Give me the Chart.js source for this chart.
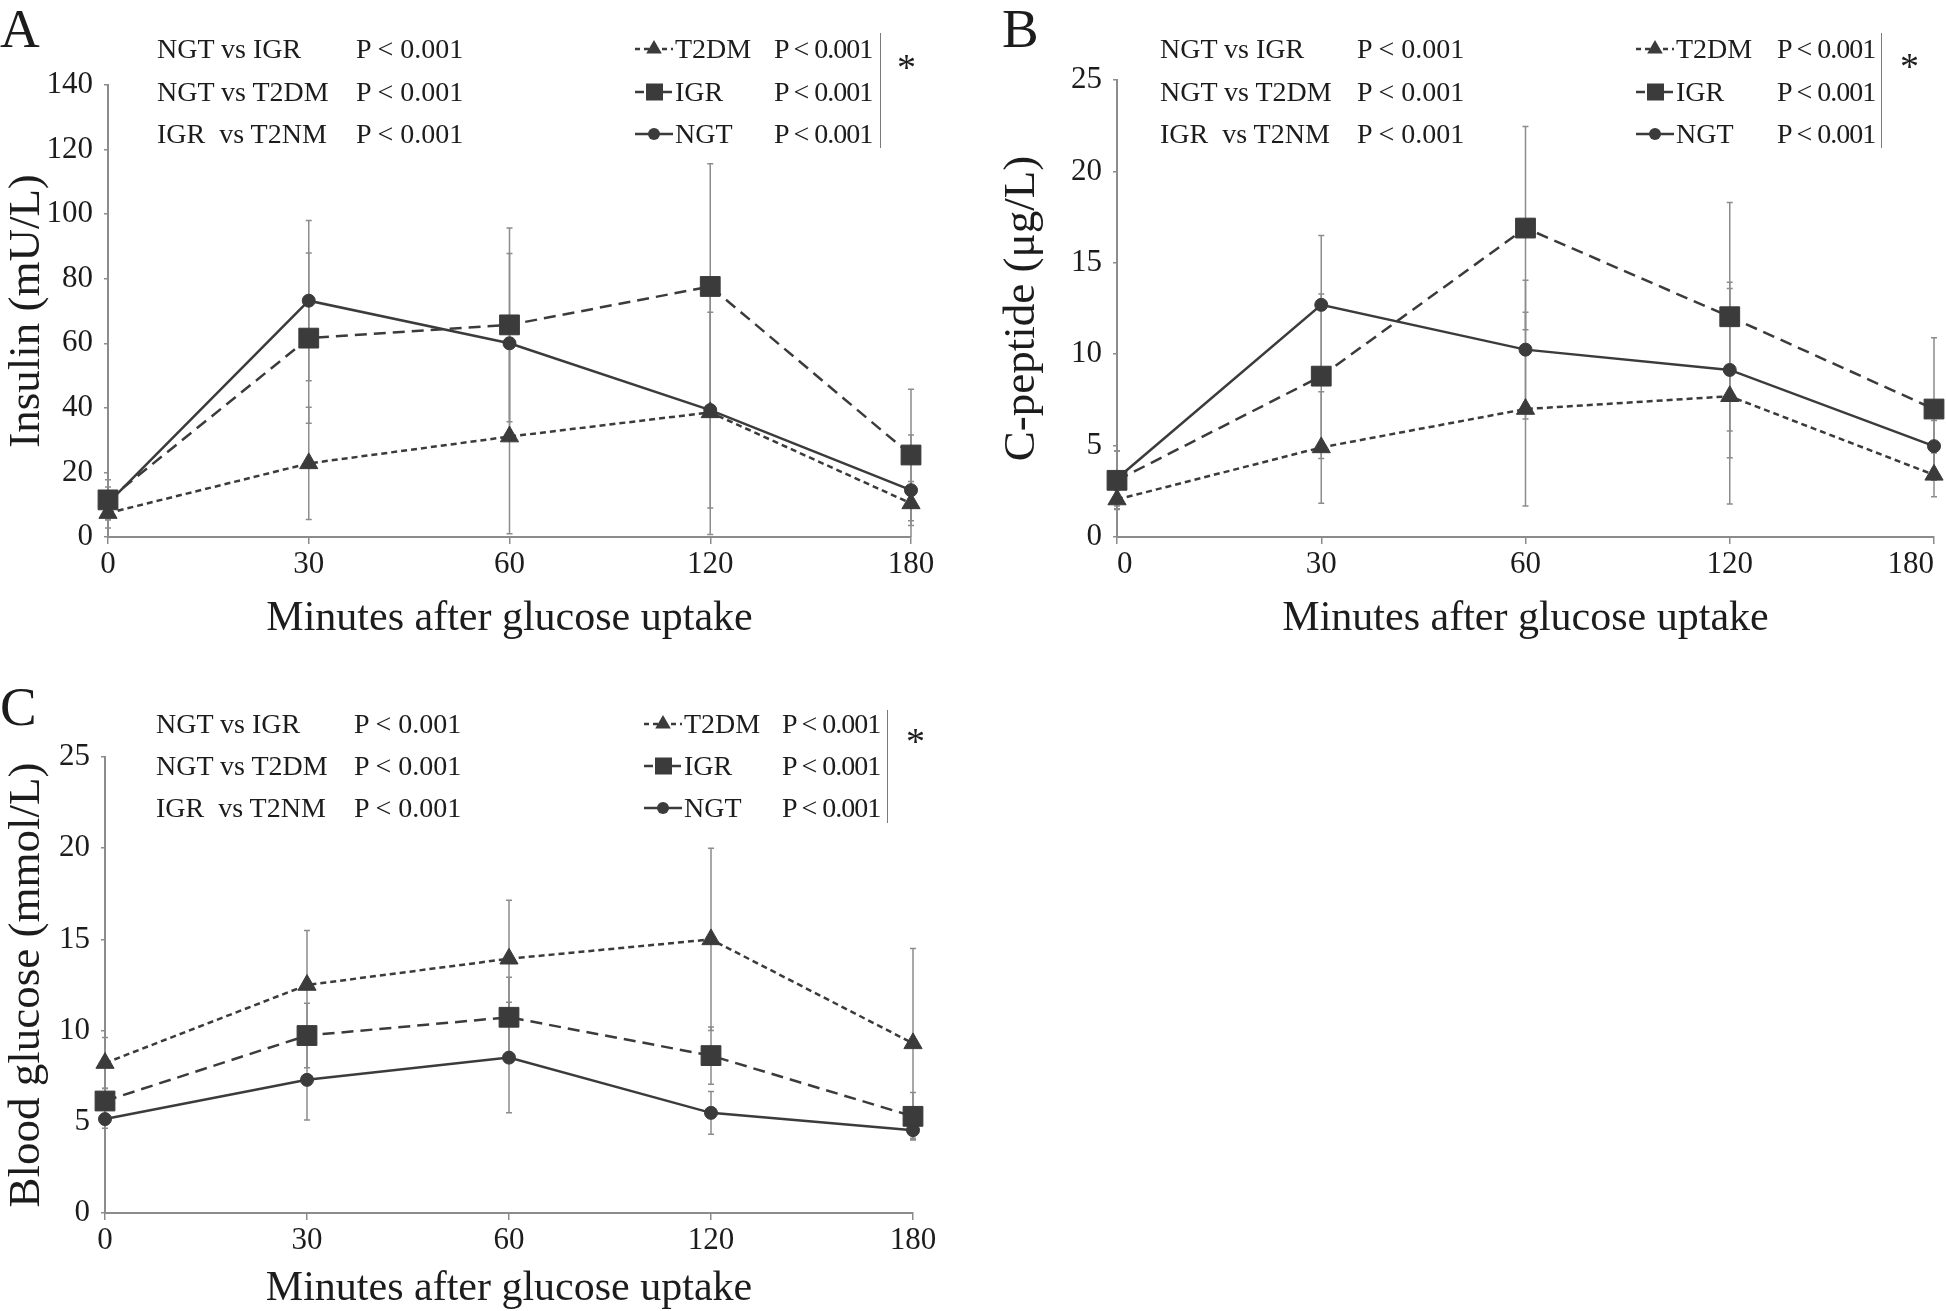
<!DOCTYPE html>
<html>
<head>
<meta charset="utf-8">
<title>OGTT insulin, C-peptide and glucose</title>
<script src="https://cdn.jsdelivr.net/npm/chart.js@4.4.1/dist/chart.umd.min.js"></script>
<style>
  html, body { margin: 0; padding: 0; background: #fff; }
  body { position: relative; width: 1946px; height: 1311px; overflow: hidden;
         font-family: "Liberation Serif", "Times New Roman", serif; color: #1c1c1c; }
  canvas { position: absolute; }
  .t { position: absolute; white-space: pre; line-height: 1; font-size: 28px; }
  .letter { font-size: 55px; }
  .leg { letter-spacing: -1px; }
  .star { font-size: 38px; }
  .sep { position: absolute; width: 0; border-left: 1.5px solid #7a7a7a; }
  svg { position: absolute; overflow: visible; }
</style>
</head>
<body>
<canvas id="chartA" width="960" height="644" style="left:0;top:0"></canvas>
<canvas id="chartB" width="980" height="644" style="left:995px;top:0"></canvas>
<canvas id="chartC" width="960" height="634" style="left:0;top:680px"></canvas>
<div id="notes"></div>
<script>
// time points (minutes after glucose load)
var minutes = ['0', '30', '60', '120', '180'];

// A - insulin (mU/L), means and SD
var insulinT2DM = [7.4, 22.8, 31.1, 38.6, 10.4];
var insulinIGR = [11.5, 61.6, 65.7, 77.6, 25.4];
var insulinNGT = [10.5, 73.2, 60.0, 39.3, 14.5];
var insulinT2DMsd = [4.6, 17.4, 30.1, 37.8, 6.8];
var insulinIGRsd = [6.2, 26.4, 30.0, 38.0, 20.4];
var insulinNGTsd = [5.0, 24.8, 27.8, 30.3, 17.1];

// B - C-peptide (ug/L)
var cpepT2DM = [2.05, 4.9, 7.0, 7.7, 3.4];
var cpepIGR = [3.1, 8.8, 16.9, 12.05, 7.0];
var cpepNGT = [3.2, 12.7, 10.25, 9.14, 4.97];
var cpepT2DMsd = [0.5, 3.05, 5.3, 5.9, 1.2];
var cpepIGRsd = [1.6, 4.5, 5.56, 6.25, 3.9];
var cpepNGTsd = [1.5, 3.8, 3.8, 4.8, 1.4];

// C - blood glucose (mmol/L)
var glucoseT2DM = [8.22, 12.5, 13.94, 15.0, 9.3];
var glucoseIGR = [6.14, 9.73, 10.73, 8.63, 5.3];
var glucoseNGT = [5.15, 7.3, 8.52, 5.49, 4.54];
var glucoseT2DMsd = [1.4, 2.99, 3.2, 5.0, 5.2];
var glucoseIGRsd = [0.7, 1.77, 2.2, 1.57, 1.3];
var glucoseNGTsd = [0.5, 2.2, 3.03, 1.17, 0.5];

var groupNames = ['T2DM', 'IGR', 'NGT'];
var comparisons = ['NGT vs IGR', 'NGT vs T2DM', 'IGR  vs T2NM'];
var pText = 'P < 0.001';

var ink = '#3b3b3b';
var axisGrey = '#8c8c8c';
var textColor = '#1c1c1c';
var serif = '"Liberation Serif", "Times New Roman", serif';

var looks = {
  T2DM: { pointStyle: 'triangle', pointRadius: 10.5, borderDash: [6, 4] },
  IGR: { pointStyle: 'rect', pointRadius: 14, borderDash: [12, 7] },
  NGT: { pointStyle: 'circle', pointRadius: 6.5, borderDash: [] }
};

// +/- SD whiskers, drawn under the lines
var errorBars = {
  id: 'errorBars',
  beforeDatasetsDraw: function(chart) {
    var ctx = chart.ctx, area = chart.chartArea;
    var x = chart.scales.x, y = chart.scales.y;
    ctx.save();
    ctx.beginPath();
    ctx.rect(area.left - 20, 0, area.width + 40, area.bottom);
    ctx.clip();
    ctx.strokeStyle = axisGrey;
    ctx.lineWidth = 1.5;
    chart.data.datasets.forEach(function(ds) {
      ds.sd.forEach(function(s, i) {
        var px = x.getPixelForValue(i);
        var hi = y.getPixelForValue(ds.data[i] + s);
        var lo = y.getPixelForValue(ds.data[i] - s);
        ctx.beginPath();
        ctx.moveTo(px, hi); ctx.lineTo(px, lo);
        ctx.moveTo(px - 3, hi); ctx.lineTo(px + 3, hi);
        ctx.moveTo(px - 3, lo); ctx.lineTo(px + 3, lo);
        ctx.stroke();
      });
    });
    ctx.restore();
  }
};

function makeSet(name, values, sd) {
  return Object.assign({
    label: name,
    data: values,
    sd: sd,
    borderColor: ink,
    backgroundColor: ink,
    pointBackgroundColor: ink,
    pointBorderColor: ink,
    pointBorderWidth: 1,
    borderWidth: 2.5,
    tension: 0,
    fill: false,
    clip: false
  }, looks[name]);
}

function drawPanel(id, yTitle, yMax, yStep, sets, box) {
  return new Chart(document.getElementById(id), {
    type: 'line',
    data: { labels: minutes, datasets: sets },
    plugins: [errorBars],
    options: {
      responsive: false,
      animation: false,
      events: [],
      layout: { padding: { top: box.padTop, right: box.padRight, left: 0, bottom: 0 } },
      plugins: { legend: { display: false }, tooltip: { enabled: false } },
      scales: {
        x: {
          type: 'category',
          offset: false,
          afterFit: function(s) { s.height = box.xHeight; },
          grid: { display: true, drawOnChartArea: false, drawTicks: true, tickLength: 7,
                  color: axisGrey, tickColor: axisGrey, tickWidth: 1.5, lineWidth: 1.5 },
          border: { color: axisGrey, width: 2 },
          ticks: { color: textColor, font: { family: serif, size: 31 }, padding: 2,
                   align: box.tickAlign, maxRotation: 0, autoSkip: false },
          title: { display: true, text: 'Minutes after glucose uptake', color: textColor,
                   font: { family: serif, size: 42 }, padding: 0 }
        },
        y: {
          min: 0,
          max: yMax,
          afterFit: function(s) { s.width = box.yWidth; },
          grid: { display: true, drawOnChartArea: false, drawTicks: true, tickLength: 4,
                  color: axisGrey, tickColor: axisGrey, tickWidth: 1.5, lineWidth: 1.5 },
          border: { color: axisGrey, width: 2 },
          ticks: { stepSize: yStep, color: textColor, font: { family: serif, size: 31 }, padding: 11 },
          title: { display: true, text: yTitle, color: textColor,
                   font: { family: serif, size: 45 }, padding: 0 }
        }
      }
    }
  });
}

drawPanel('chartA', 'Insulin (mU/L)', 140, 20, [
  makeSet('T2DM', insulinT2DM, insulinT2DMsd),
  makeSet('IGR', insulinIGR, insulinIGRsd),
  makeSet('NGT', insulinNGT, insulinNGTsd)
], { padTop: 85, padRight: 49, xHeight: 107, yWidth: 108, tickAlign: 'center' });

drawPanel('chartB', 'C-peptide (\u03bcg/L)', 25, 5, [
  makeSet('T2DM', cpepT2DM, cpepT2DMsd),
  makeSet('IGR', cpepIGR, cpepIGRsd),
  makeSet('NGT', cpepNGT, cpepNGTsd)
], { padTop: 80, padRight: 41, xHeight: 107, yWidth: 122, tickAlign: 'inner' });

drawPanel('chartC', 'Blood glucose (mmol/L)', 25, 5, [
  makeSet('T2DM', glucoseT2DM, glucoseT2DMsd),
  makeSet('IGR', glucoseIGR, glucoseIGRsd),
  makeSet('NGT', glucoseNGT, glucoseNGTsd)
], { padTop: 77, padRight: 47, xHeight: 101, yWidth: 105, tickAlign: 'center' });

// panel letters, comparison notes and the legends
var notes = document.getElementById('notes');

function addText(text, left, top, cls) {
  var el = document.createElement('div');
  el.className = 't' + (cls ? ' ' + cls : '');
  el.textContent = text;
  el.style.left = left + 'px';
  el.style.top = top + 'px';
  notes.appendChild(el);
}

function addSample(name, x, cy) {
  var dash = name === 'T2DM' ? '5 4' : (name === 'IGR' ? '9 5' : 'none');
  var mark;
  if (name === 'T2DM') mark = '<polygon points="19,3 26.8,16.5 11.2,16.5" fill="' + ink + '"/>';
  else if (name === 'IGR') mark = '<rect x="11" y="3.5" width="17" height="17" fill="' + ink + '"/>';
  else mark = '<circle cx="19" cy="12" r="6" fill="' + ink + '"/>';
  notes.insertAdjacentHTML('beforeend',
    '<svg width="40" height="24" style="left:' + x + 'px;top:' + (cy - 12) + 'px">' +
    '<line x1="0" y1="12" x2="38" y2="12" stroke="' + ink + '" stroke-width="2.5" stroke-dasharray="' + dash + '"/>' +
    mark + '</svg>');
}

var spots = [
  { letter: 'A', lx: 0, ly: 1, rows: [49, 92, 134], cmpX: 157, pX: 356,
    legX: 635, labX: 675, legPX: 774, sepX: 880, sepTop: 33, sepBottom: 148, starX: 897, starY: 48 },
  { letter: 'B', lx: 1002, ly: 1, rows: [49, 92, 134], cmpX: 1160, pX: 1357,
    legX: 1636, labX: 1676, legPX: 1777, sepX: 1881, sepTop: 33, sepBottom: 148, starX: 1900, starY: 47 },
  { letter: 'C', lx: 0, ly: 679, rows: [724, 766, 808], cmpX: 156, pX: 354,
    legX: 644, labX: 684, legPX: 782, sepX: 887, sepTop: 710, sepBottom: 823, starX: 906, starY: 722 }
];

spots.forEach(function(s) {
  addText(s.letter, s.lx, s.ly, 'letter');
  comparisons.forEach(function(c, i) {
    addText(c, s.cmpX, s.rows[i] - 14);
    addText(pText, s.pX, s.rows[i] - 14);
  });
  groupNames.forEach(function(g, i) {
    addSample(g, s.legX, s.rows[i]);
    addText(g, s.labX, s.rows[i] - 14);
    addText(pText, s.legPX, s.rows[i] - 14, 'leg');
  });
  var sep = document.createElement('div');
  sep.className = 'sep';
  sep.style.left = s.sepX + 'px';
  sep.style.top = s.sepTop + 'px';
  sep.style.height = (s.sepBottom - s.sepTop) + 'px';
  notes.appendChild(sep);
  addText('*', s.starX, s.starY, 'star');
});
</script>
</body>
</html>
